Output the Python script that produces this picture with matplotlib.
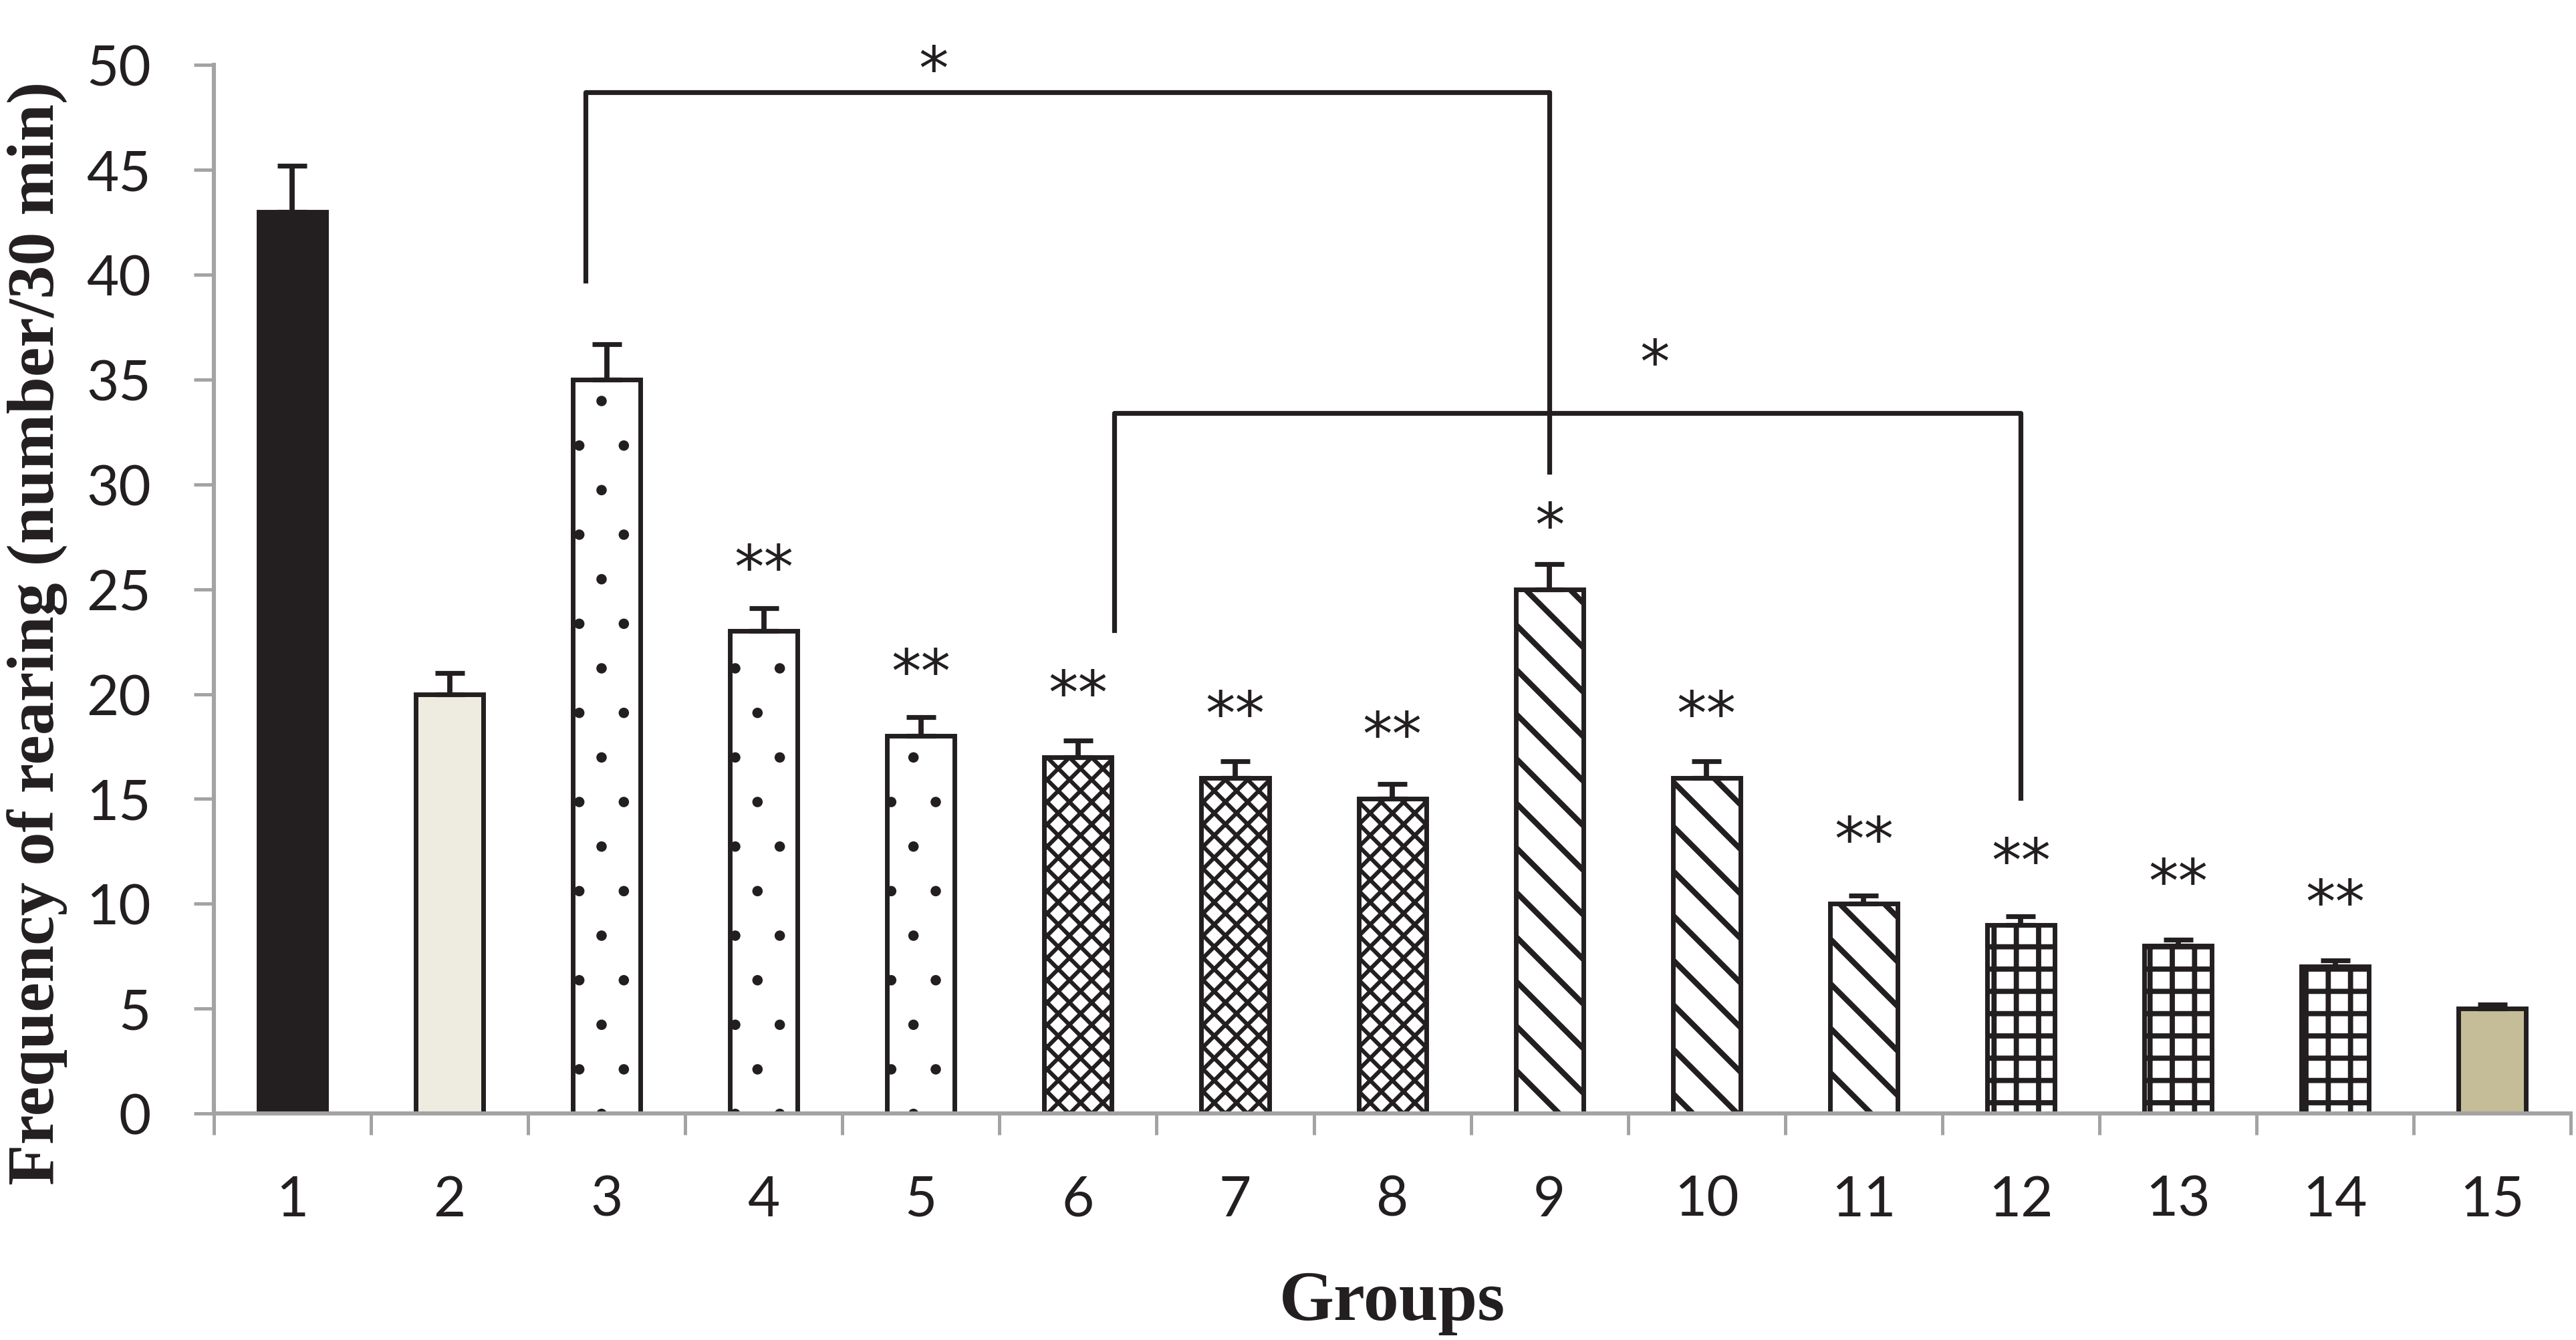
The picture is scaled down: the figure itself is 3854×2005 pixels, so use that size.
import numpy as np
import matplotlib
matplotlib.use('Agg')
import matplotlib.pyplot as plt

# group data
groups = [str(i) for i in range(1, 16)]
means = [43, 20, 35, 23, 18, 17, 16, 15, 25, 16, 10, 9, 8, 7, 5]
errors = [2.2, 1.0, 1.7, 1.1, 0.9, 0.8, 0.8, 0.7, 1.2, 0.8, 0.4, 0.4, 0.3, 0.3, 0.2]
stars = ['', '', '', '**', '**', '**', '**', '**', '*', '**', '**', '**', '**', '**', '']
fills = ['#231f20', '#eeece1'] + ['white'] * 12 + ['#c4bd97']
hatches = [None, None, '.', '.', '.', 'xxxx', 'xxxx', 'xxxx',
           '\\\\', '\\\\', '\\\\', '++', '++', '++', None]
hatch_widths = [1.0, 1.0, 0.4, 0.4, 0.4, 1.1, 1.1, 1.1, 1.5, 1.5, 1.5, 1.4, 1.4, 1.4, 1.0]

# comparison brackets: group from, group to, bracket level, left leg end, right leg end
brackets = [(3, 9, 48.7, 39.7, 30.6), (6, 12, 33.4, 23.05, 15.05)]
bracket_left_shift = [-0.135, 0.23]
# star over each bracket: x (group number), y centre
bracket_stars = [(5.08, 50.5), (9.67, 36.5)]

dark = '#231f20'
gray = '#a3a3a3'

plt.rcParams['font.family'] = ['Lato', 'DejaVu Sans']
plt.rcParams['hatch.linewidth'] = 1.2

dpi = 400
fig, ax = plt.subplots(figsize=(3854 / dpi, 2006 / dpi), dpi=dpi)
fig.subplots_adjust(left=0.083, right=0.998, bottom=0.169, top=0.951)

x = np.arange(len(groups))
for i in range(len(groups)):
    with plt.rc_context({'hatch.linewidth': hatch_widths[i]}):
        b = ax.bar(x[i], means[i], width=0.43, color=fills[i], edgecolor=dark,
                   linewidth=1.25, hatch=hatches[i], zorder=2)
    for p in b.patches:
        if hasattr(p, 'set_hatch_linewidth'):
            p.set_hatch_linewidth(hatch_widths[i])

ax.errorbar(x, means, yerr=[np.zeros(len(means)), errors], fmt='none',
            ecolor=dark, elinewidth=1.4, capsize=4, capthick=1.3, zorder=3)

# stars over the bars (glyph centre ~3.75 above the bar)
star_font = dict(fontsize=16, color=dark, family='DejaVu Sans')
for i in range(len(groups)):
    if stars[i]:
        ax.text(x[i], means[i] + 2.1, stars[i], ha='center', va='baseline',
                **star_font)

# brackets
for (g1, g2, top, y1, y2), shift in zip(brackets, bracket_left_shift):
    xl = g1 - 1 + shift
    xr = g2 - 1
    ax.plot([xl, xl, xr, xr], [y1, top, top, y2], color=dark, lw=1.3,
            clip_on=False, zorder=4)
for sx, sy in bracket_stars:
    ax.text(sx - 1, sy - 1.63, '*', ha='center', va='baseline',
            clip_on=False, **star_font)

ax.set_xlim(-0.5, len(groups) - 0.5)
ax.set_ylim(0, 50)
ax.set_yticks(range(0, 51, 5))
ax.set_xticks(x, groups)
ax.set_xticks(np.arange(-0.5, len(groups), 1), minor=True)

for side in ['top', 'right']:
    ax.spines[side].set_visible(False)
for side in ['left', 'bottom']:
    ax.spines[side].set_color(gray)
    ax.spines[side].set_linewidth(1.1)

ax.tick_params(axis='y', length=5.4, width=0.9, color=gray, pad=11.5,
               labelsize=15, labelcolor=dark)
ax.tick_params(axis='x', which='major', length=0, pad=16.5,
               labelsize=15, labelcolor=dark)
ax.tick_params(axis='x', which='minor', length=5.8, width=0.9, color=gray)

ax.set_ylabel('Frequency of rearing (number/30 min)', fontfamily='Liberation Serif',
              fontweight='bold', fontsize=18, color=dark)
ax.yaxis.set_label_coords(-0.0618, 0.459)
ax.set_xlabel('Groups', fontfamily='Liberation Serif', fontweight='bold',
              fontsize=19, color=dark)
ax.xaxis.set_label_coords(0.5, -0.149)

fig.savefig('out.png', dpi=dpi)
